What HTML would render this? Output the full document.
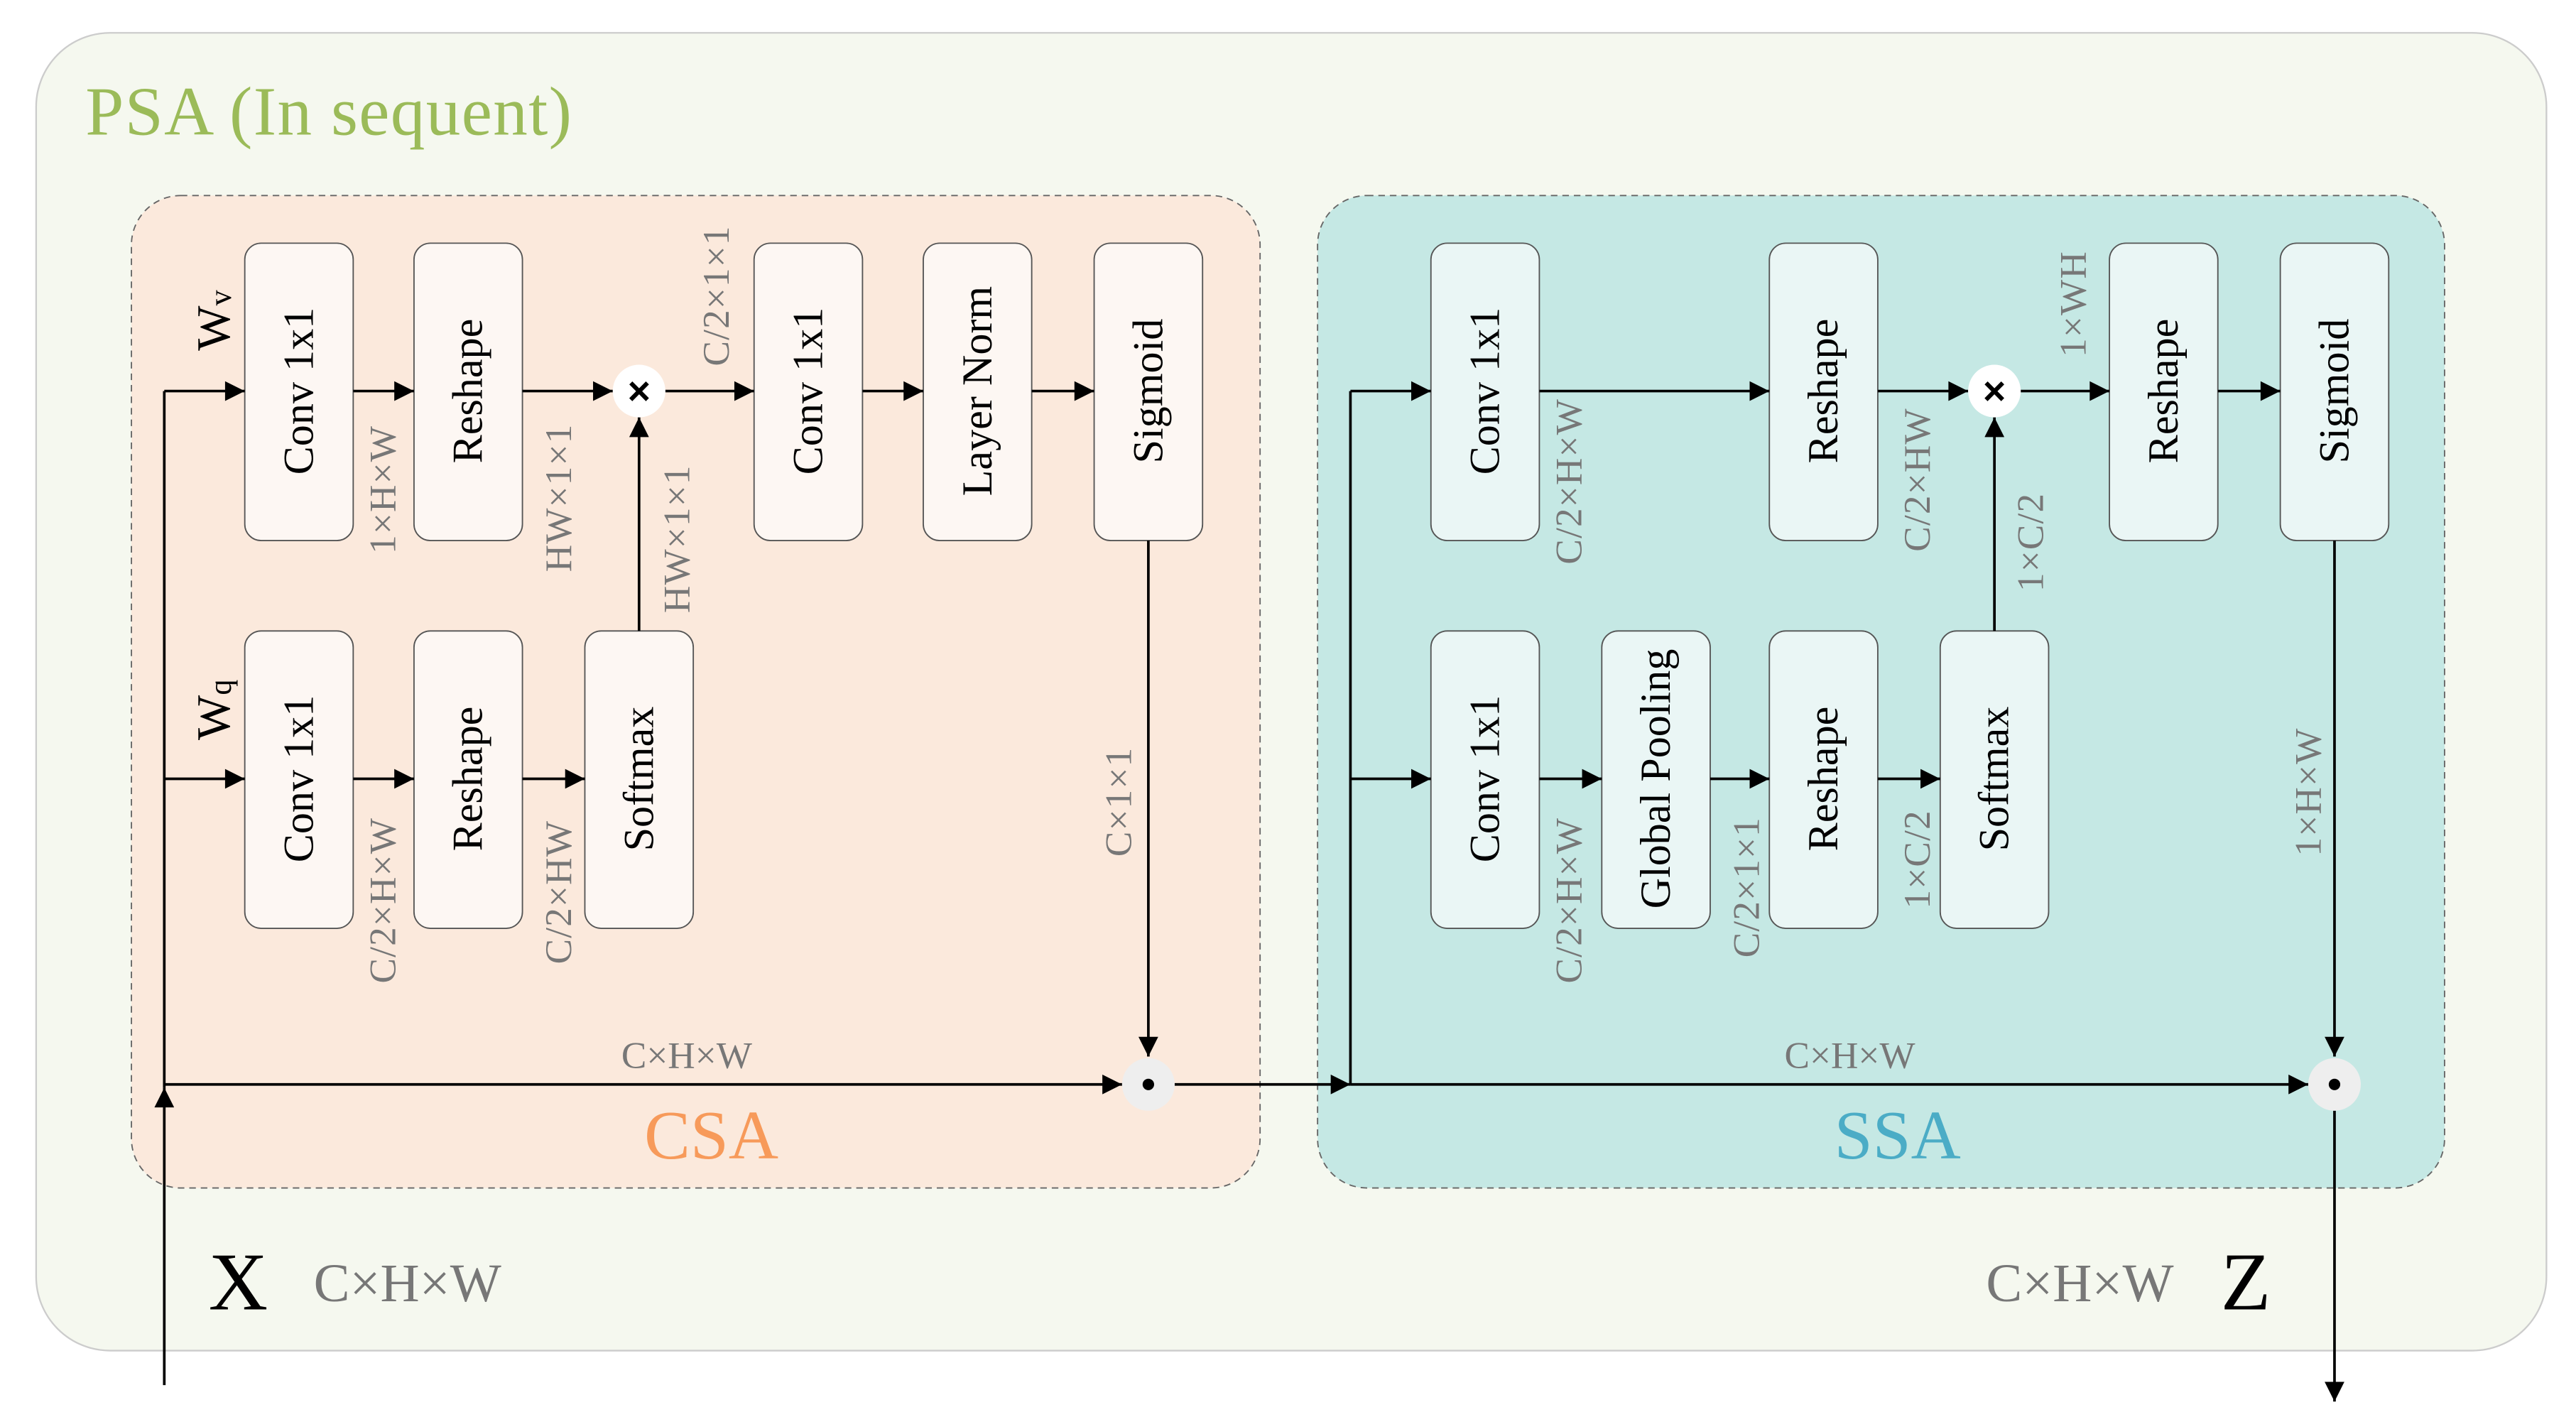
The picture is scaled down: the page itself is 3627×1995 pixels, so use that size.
<!DOCTYPE html>
<html><head><meta charset="utf-8"><style>
html,body{margin:0;padding:0;background:#fff;}
svg{display:block;}
.bx{font-family:"Liberation Serif",serif;font-size:26px;fill:#000;}
.lb{font-family:"Liberation Serif",serif;font-size:23px;fill:#777;letter-spacing:0.5px;}
</style></head><body>
<svg width="3627" height="1995" viewBox="0 0 1568 862.4" preserveAspectRatio="none" xmlns="http://www.w3.org/2000/svg">
<defs>
<marker id="a" viewBox="0 0 10 10" refX="10" refY="5" markerWidth="15" markerHeight="12" markerUnits="userSpaceOnUse" orient="auto"><path d="M0,0 L10,5 L0,10 z" fill="#000"/></marker>
</defs>
<rect x="0" y="0" width="1568" height="862.4" fill="#fff"/>
<rect x="22" y="20" width="1528" height="802" rx="45" fill="#f5f8ef" stroke="#ccc" stroke-width="1"/>
<text x="52" y="82" font-family="Liberation Serif,serif" font-size="42" fill="#9bbb59" textLength="296">PSA (In sequent)</text>

<rect x="80" y="119" width="687" height="604" rx="30" fill="#fbe9dc" stroke="#666" stroke-width="0.8" stroke-dasharray="4,3"/>
<rect x="802" y="119" width="686" height="604" rx="30" fill="#c5e8e4" stroke="#666" stroke-width="0.8" stroke-dasharray="4,3"/>
<text x="433" y="705" text-anchor="middle" font-family="Liberation Serif,serif" font-size="42" fill="#f79a5a">CSA</text>
<text x="1155" y="705" text-anchor="middle" font-family="Liberation Serif,serif" font-size="42" fill="#4bacc6">SSA</text>

<g stroke="#555" stroke-width="0.8" fill="#fdf7f3">
<rect x="149" y="148" width="66" height="181" rx="10"/>
<rect x="252" y="148" width="66" height="181" rx="10"/>
<rect x="459" y="148" width="66" height="181" rx="10"/>
<rect x="562" y="148" width="66" height="181" rx="10"/>
<rect x="666" y="148" width="66" height="181" rx="10"/>
<rect x="149" y="384" width="66" height="181" rx="10"/>
<rect x="252" y="384" width="66" height="181" rx="10"/>
<rect x="356" y="384" width="66" height="181" rx="10"/>
</g>
<g stroke="#555" stroke-width="0.8" fill="#eaf6f5">
<rect x="871" y="148" width="66" height="181" rx="10"/>
<rect x="1077" y="148" width="66" height="181" rx="10"/>
<rect x="1284" y="148" width="66" height="181" rx="10"/>
<rect x="1388" y="148" width="66" height="181" rx="10"/>
<rect x="871" y="384" width="66" height="181" rx="10"/>
<rect x="975" y="384" width="66" height="181" rx="10"/>
<rect x="1077" y="384" width="66" height="181" rx="10"/>
<rect x="1181" y="384" width="66" height="181" rx="10"/>
</g>

<g class="bx" text-anchor="middle" dominant-baseline="central">
<text transform="translate(182,238) rotate(-90)">Conv 1x1</text>
<text transform="translate(285,238) rotate(-90)">Reshape</text>
<text transform="translate(492,238) rotate(-90)">Conv 1x1</text>
<text transform="translate(595,238) rotate(-90)">Layer Norm</text>
<text transform="translate(699,238) rotate(-90)">Sigmoid</text>
<text transform="translate(182,474) rotate(-90)">Conv 1x1</text>
<text transform="translate(285,474) rotate(-90)">Reshape</text>
<text transform="translate(389,474) rotate(-90)">Softmax</text>
<text transform="translate(904,238) rotate(-90)">Conv 1x1</text>
<text transform="translate(1110,238) rotate(-90)">Reshape</text>
<text transform="translate(1317,238) rotate(-90)">Reshape</text>
<text transform="translate(1421,238) rotate(-90)">Sigmoid</text>
<text transform="translate(904,474) rotate(-90)">Conv 1x1</text>
<text transform="translate(1008,474) rotate(-90)">Global Pooling</text>
<text transform="translate(1110,474) rotate(-90)">Reshape</text>
<text transform="translate(1214,474) rotate(-90)">Softmax</text>
<text transform="translate(130,195) rotate(-90)" font-size="29">W<tspan font-size="19" dy="4">v</tspan></text>
<text transform="translate(130,432) rotate(-90)" font-size="29">W<tspan font-size="19" dy="4">q</tspan></text>
</g>

<g class="lb" text-anchor="middle" dominant-baseline="central">
<text transform="translate(233,298) rotate(-90)">1×H×W</text>
<text transform="translate(340,303) rotate(-90)">HW×1×1</text>
<text transform="translate(412,328) rotate(-90)">HW×1×1</text>
<text transform="translate(436,180) rotate(-90)">C/2×1×1</text>
<text transform="translate(233,548) rotate(-90)">C/2×H×W</text>
<text transform="translate(340,543) rotate(-90)">C/2×HW</text>
<text transform="translate(681,488) rotate(-90)">C×1×1</text>
<text transform="translate(955,293) rotate(-90)">C/2×H×W</text>
<text transform="translate(1167,292) rotate(-90)">C/2×HW</text>
<text transform="translate(1262,185) rotate(-90)">1×WH</text>
<text transform="translate(1236,330) rotate(-90)">1×C/2</text>
<text transform="translate(955,548) rotate(-90)">C/2×H×W</text>
<text transform="translate(1063,540) rotate(-90)">C/2×1×1</text>
<text transform="translate(1167,523) rotate(-90)">1×C/2</text>
<text transform="translate(1405,482) rotate(-90)">1×H×W</text>
</g>
<g font-family="Liberation Serif,serif" fill="#777" text-anchor="middle">
<text x="418" y="650" font-size="23">C×H×W</text>
<text x="1126" y="650" font-size="23">C×H×W</text>
<text x="248" y="792" font-size="33">C×H×W</text>
<text x="1266" y="792" font-size="33">C×H×W</text>
</g>
<text x="145" y="797" text-anchor="middle" font-family="Liberation Serif,serif" font-size="50">X</text>
<text x="1367" y="797" text-anchor="middle" font-family="Liberation Serif,serif" font-size="50">Z</text>

<g stroke="#000" stroke-width="1.6" fill="none">
<line x1="100" y1="843" x2="100" y2="662" marker-end="url(#a)"/>
<line x1="100" y1="662" x2="100" y2="238"/>
<line x1="100" y1="238" x2="149" y2="238" marker-end="url(#a)"/>
<line x1="100" y1="474" x2="149" y2="474" marker-end="url(#a)"/>
<line x1="215" y1="238" x2="252" y2="238" marker-end="url(#a)"/>
<line x1="318" y1="238" x2="373" y2="238" marker-end="url(#a)"/>
<line x1="405" y1="238" x2="459" y2="238" marker-end="url(#a)"/>
<line x1="525" y1="238" x2="562" y2="238" marker-end="url(#a)"/>
<line x1="628" y1="238" x2="666" y2="238" marker-end="url(#a)"/>
<line x1="215" y1="474" x2="252" y2="474" marker-end="url(#a)"/>
<line x1="318" y1="474" x2="356" y2="474" marker-end="url(#a)"/>
<line x1="389" y1="384" x2="389" y2="254" marker-end="url(#a)"/>
<line x1="699" y1="329" x2="699" y2="643" marker-end="url(#a)"/>
<line x1="100" y1="660" x2="683" y2="660" marker-end="url(#a)"/>
<line x1="715" y1="660" x2="822" y2="660" marker-end="url(#a)"/>
<line x1="822" y1="660" x2="822" y2="238"/>
<line x1="822" y1="238" x2="871" y2="238" marker-end="url(#a)"/>
<line x1="822" y1="474" x2="871" y2="474" marker-end="url(#a)"/>
<line x1="937" y1="238" x2="1077" y2="238" marker-end="url(#a)"/>
<line x1="1143" y1="238" x2="1198" y2="238" marker-end="url(#a)"/>
<line x1="1230" y1="238" x2="1284" y2="238" marker-end="url(#a)"/>
<line x1="1350" y1="238" x2="1388" y2="238" marker-end="url(#a)"/>
<line x1="937" y1="474" x2="975" y2="474" marker-end="url(#a)"/>
<line x1="1041" y1="474" x2="1077" y2="474" marker-end="url(#a)"/>
<line x1="1143" y1="474" x2="1181" y2="474" marker-end="url(#a)"/>
<line x1="1214" y1="384" x2="1214" y2="254" marker-end="url(#a)"/>
<line x1="1421" y1="329" x2="1421" y2="643" marker-end="url(#a)"/>
<line x1="822" y1="660" x2="1405" y2="660" marker-end="url(#a)"/>
<line x1="1421" y1="676" x2="1421" y2="853" marker-end="url(#a)"/>
</g>
<g>
<circle cx="389" cy="238" r="16" fill="#fff"/>
<text x="389" y="238" text-anchor="middle" dominant-baseline="central" font-family="Liberation Sans,sans-serif" font-weight="bold" font-size="24">×</text>
<circle cx="1214" cy="238" r="16" fill="#fff"/>
<text x="1214" y="238" text-anchor="middle" dominant-baseline="central" font-family="Liberation Sans,sans-serif" font-weight="bold" font-size="24">×</text>
<circle cx="699" cy="660" r="16" fill="#eee"/>
<circle cx="699" cy="660" r="3.5" fill="#000"/>
<circle cx="1421" cy="660" r="16" fill="#eee"/>
<circle cx="1421" cy="660" r="3.5" fill="#000"/>
</g>
</svg>
</body></html>
